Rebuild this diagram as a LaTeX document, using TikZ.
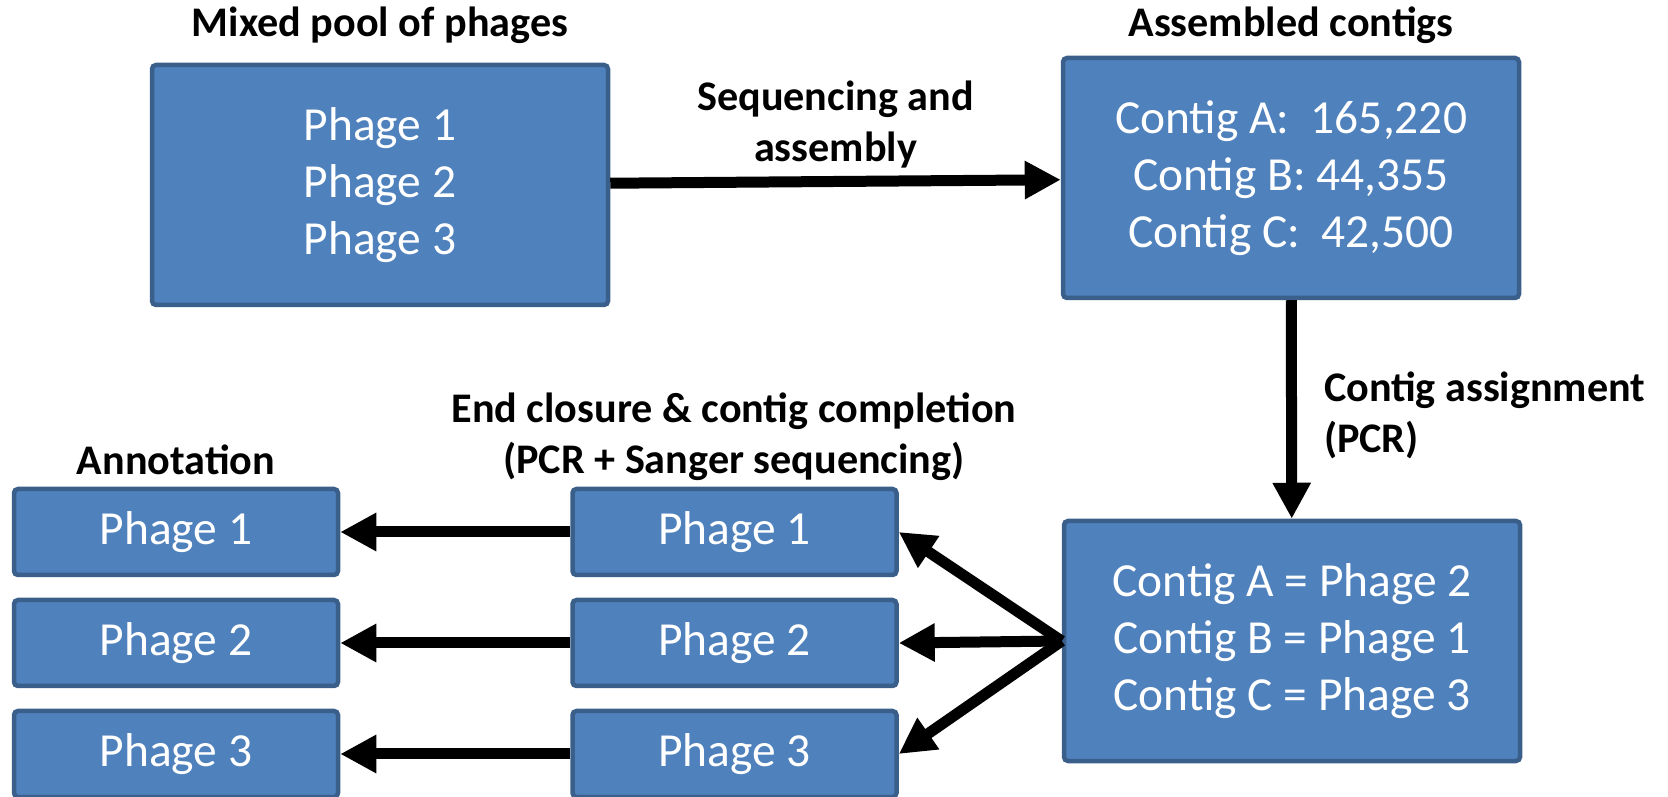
\documentclass[tikz,border=0pt]{standalone}
\usepackage{xcolor}
\usepackage{fontspec}
\setmainfont{Carlito}
\usepackage{tikz}
\usetikzlibrary{arrows.meta}
\definecolor{boxfill}{HTML}{4F81BD}
\definecolor{boxline}{HTML}{3A5F8B}
\tikzstyle{bigbox} = [rectangle, rounded corners=0.4mm, minimum width=45.6mm, minimum height=24cm/10, inner sep=0pt, align=center, draw=boxline, line width=0.45mm, fill=boxfill, text=white, font=\fontsize{13.5}{16.2}\selectfont]
\tikzstyle{smallbox} = [rectangle, rounded corners=0.4mm, minimum width=32.4mm, minimum height=8.6mm, inner sep=0pt, align=center, draw=boxline, line width=0.45mm, fill=boxfill, text=white, font=\fontsize{13.5}{16.2}\selectfont]
\tikzstyle{title} = [inner sep=0pt, align=center, font=\fontsize{12}{14.6}\selectfont\bfseries]
\tikzstyle{arrow} = [line width=1.1mm, -{Triangle[length=3.6mm,width=3.6mm]}]

\begin{document}
\begin{tikzpicture}[x=0.1mm, y=0.1mm, node distance=11.1mm]
      \useasboundingbox (0,0) rectangle (1668,-797);
      % top row
      \node (pool) [bigbox] at (380,-185) {Phage 1\\Phage 2\\Phage 3};
      \node (contigs) [bigbox] at (1291,-178) {Contig A:\ \ 165,220\\Contig B: 44,355\\Contig C:\ \ 42,500};
      \node (pooltitle) [title, anchor=base] at (380,-37) {Mixed pool of phages};
      \node (contigtitle) [title, anchor=base] at (1291,-37) {Assembled contigs};
      % assignment
      \node (assign) [bigbox] at (1292,-641) {Contig A = Phage 2\\Contig B = Phage 1\\Contig C = Phage 3};
      % closure column
      \node (close1) [smallbox] at (734.5,-532) {Phage 1};
      \node (close2) [smallbox, below of=close1] {Phage 2};
      \node (close3) [smallbox, below of=close2] {Phage 3};
      % annotation column
      \node (annot1) [smallbox] at (176,-532) {Phage 1};
      \node (annot2) [smallbox, below of=annot1] {Phage 2};
      \node (annot3) [smallbox, below of=annot2] {Phage 3};
      \node (annottitle) [title, anchor=base] at (176,-475) {Annotation};
      \node (closetitle) [title] at (734,-437) {End closure \& contig completion\\(PCR + Sanger sequencing)};
      % arrows
      \draw [arrow] (pool) -- node (seqlabel) [title, above, yshift=0.8mm] {Sequencing and\\assembly} (contigs);
      \draw [arrow] (contigs) -- node (pcrlabel) [title, right, align=left, xshift=2.7mm, yshift=-0.6mm] {Contig assignment\\(PCR)} (assign);
      \draw [arrow] (assign.west) -- (close1.east);
      \draw [arrow] (assign.west) -- (close2.east);
      \draw [arrow] (assign.west) -- (close3.east);
      \draw [arrow] (close1) -- (annot1);
      \draw [arrow] (close2) -- (annot2);
      \draw [arrow] (close3) -- (annot3);
    \end{tikzpicture}
\end{document}
